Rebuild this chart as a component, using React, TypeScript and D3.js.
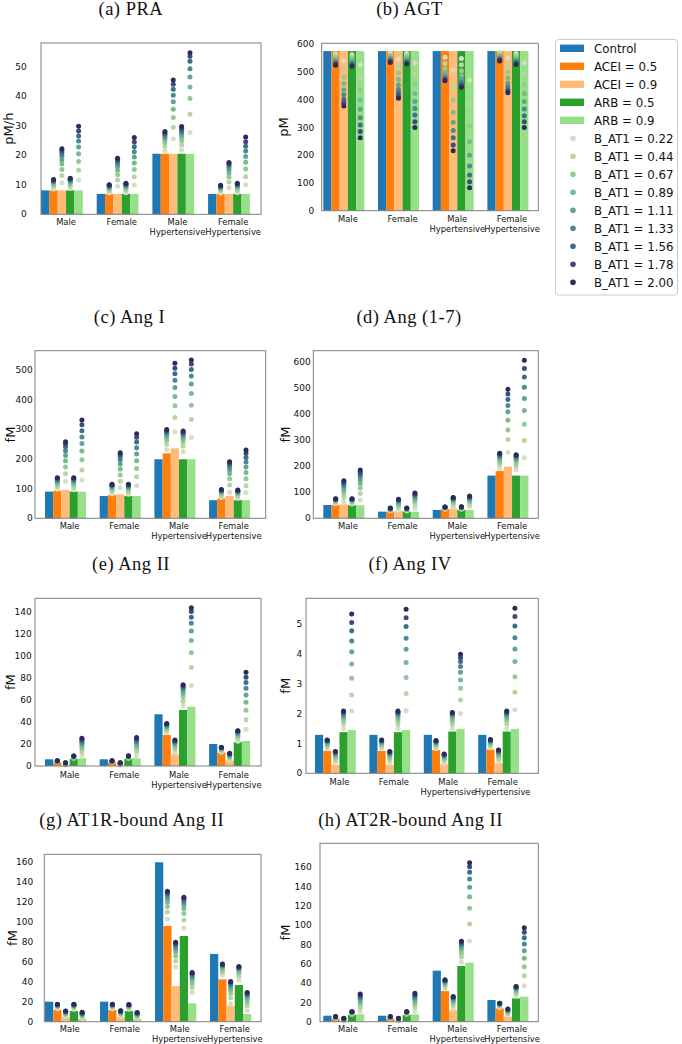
import React from "react";
import * as d3 from "d3";

// ---------- categories & labels ----------
const groups: string[][] = [["Male"], ["Female"], ["Male", "Hypertensive"], ["Female", "Hypertensive"]];
const treatments = ["Control", "ACEI = 0.5", "ACEI = 0.9", "ARB = 0.5", "ARB = 0.9"];
const bAT1 = ["0.22", "0.44", "0.67", "0.89", "1.11", "1.33", "1.56", "1.78", "2.00"];

// ---------- (a) PRA ----------
const praBars = [[8.1, 8.1, 8.1, 8.1, 8.1], [6.9, 6.9, 6.9, 6.9, 6.9], [20.5, 20.5, 20.5, 20.5, 20.5], [6.9, 6.9, 6.9, 6.9, 6.9]];
const praDots = [
  [[8.6, 9.4, 10.0, 10.5, 10.9, 11.2, 11.4, 11.6, 11.8], [10.7, 13.1, 15.2, 17.0, 18.5, 19.8, 20.8, 21.6, 22.2], [8.7, 9.6, 10.3, 10.8, 11.2, 11.5, 11.8, 12.0, 12.2], [11.6, 14.9, 17.9, 20.5, 22.8, 24.8, 26.5, 28.2, 29.8]],
  [[7.3, 8.0, 8.5, 8.9, 9.2, 9.5, 9.7, 9.9, 10.0], [9.5, 11.6, 13.4, 14.9, 16.2, 17.2, 18.0, 18.6, 19.0], [7.3, 8.1, 8.7, 9.2, 9.6, 9.9, 10.1, 10.3, 10.5], [9.9, 12.7, 15.2, 17.4, 19.4, 21.2, 22.9, 24.5, 26.0]],
  [[21.5, 23.0, 24.2, 25.2, 26.0, 26.7, 27.2, 27.6, 28.0], [25.5, 29.5, 32.8, 35.6, 38.1, 40.3, 42.3, 44.0, 45.5], [21.8, 23.5, 24.9, 26.0, 27.0, 27.8, 28.5, 29.1, 29.7], [27.7, 33.9, 39.2, 43.1, 46.5, 49.3, 51.8, 53.5, 54.7]],
  [[7.2, 7.9, 8.4, 8.8, 9.1, 9.3, 9.5, 9.6, 9.8], [9.0, 10.9, 12.6, 14.0, 15.1, 16.0, 16.7, 17.2, 17.5], [7.3, 8.1, 8.7, 9.2, 9.6, 9.9, 10.1, 10.3, 10.5], [10.0, 12.7, 15.3, 17.6, 19.6, 21.4, 23.0, 24.6, 26.2]],
];
// ---------- (b) AGT ----------
const agtBars = [[575, 575, 575, 575, 575], [575, 575, 575, 575, 575], [575, 575, 575, 575, 575], [575, 575, 575, 575, 575]];
const agtDots = [
  [[565, 558, 551, 545, 540, 535, 531, 527, 524], [540, 511, 481, 457, 436, 418, 401, 388, 377], [562, 555, 548, 542, 536, 531, 527, 523, 520], [525, 477, 435, 399, 365, 335, 309, 285, 263]],
  [[568, 562, 557, 552, 548, 544, 540, 537, 534], [546, 520, 496, 473, 453, 437, 424, 413, 405], [567, 560, 554, 548, 543, 538, 534, 531, 528], [532, 492, 455, 422, 393, 368, 345, 320, 300]],
  [[553, 530, 511, 497, 487, 480, 475, 471, 468], [505, 446, 400, 355, 319, 289, 263, 237, 216], [548, 526, 504, 487, 474, 464, 456, 450, 445], [471, 385, 306, 248, 200, 161, 129, 104, 83]],
  [[570, 565, 560, 556, 552, 548, 545, 542, 539], [550, 524, 500, 478, 460, 447, 437, 430, 425], [566, 559, 552, 546, 541, 537, 533, 530, 527], [532, 492, 455, 422, 393, 366, 342, 320, 300]],
];
// ---------- (c) Ang I ----------
const angIBars = [[90, 93, 95.5, 90, 90], [75, 78.6, 81, 75, 75], [199, 219, 236, 199, 199], [61, 67, 76, 61, 61]];
const angIDots = [
  [[98, 107, 114, 120, 125, 129, 132, 135, 137], [124, 150, 173, 194, 212, 228, 241, 251, 258], [96, 105, 113, 119, 124, 128, 132, 135, 137], [129, 163, 197, 227, 252, 274, 295, 315, 331]],
  [[82, 90, 97, 102, 106, 109, 111, 113, 115], [104, 125, 146, 166, 183, 197, 208, 216, 221], [81, 89, 96, 101, 105, 108, 111, 113, 115], [110, 140, 168, 194, 217, 238, 257, 273, 285]],
  [[232, 250, 263, 273, 281, 287, 292, 296, 299], [292, 340, 379, 411, 441, 465, 487, 506, 523], [225, 244, 258, 268, 276, 282, 287, 291, 294], [272, 333, 381, 421, 453, 480, 502, 520, 534]],
  [[70, 77, 83, 87, 90, 92, 94, 95, 97], [88, 112, 133, 150, 163, 173, 181, 187, 191], [68, 75, 81, 85, 88, 90, 92, 94, 95], [87, 110, 133, 154, 173, 190, 205, 219, 230]],
];
// ---------- (d) Ang (1-7) ----------
const ang17Bars = [[51, 51, 53.6, 50, 50], [25.5, 25.5, 28, 25.5, 25.5], [32, 34.5, 37, 32, 32], [163.5, 181, 198, 163.5, 163.5]];
const ang17Dots = [
  [[56, 61, 65, 68, 70, 72, 73, 74, 75], [62, 80, 95, 107, 117, 126, 133, 139, 144], [55, 60, 64, 67, 70, 72, 73, 74, 75], [70, 95, 116, 133, 147, 159, 169, 177, 185]],
  [[28, 31, 33, 35, 36, 37, 38, 38.5, 39], [32, 42, 50, 57, 62, 66, 69, 71, 73], [28, 31, 33, 35, 36, 37, 38, 38.5, 39], [38, 52, 63, 72, 79, 85, 90, 94, 97]],
  [[35, 37.5, 39, 40.5, 41.5, 42, 42.5, 43, 43.5], [42, 52, 60, 66, 71, 74, 77, 79, 80], [35, 37.5, 39, 40.5, 41.5, 42, 43, 43.5, 44], [45, 55, 63, 69, 74, 78, 81, 83, 85]],
  [[190, 205, 216, 225, 232, 238, 242, 246, 249], [253, 302, 338, 376, 408, 432, 455, 476, 494], [185, 200, 212, 221, 228, 234, 238, 241, 243], [232, 298, 360, 413, 459, 502, 541, 574, 605]],
];
// ---------- (e) Ang II ----------
const angIIBars = [[6.1, 3.3, 0.4, 6.4, 7.0], [6.1, 3.3, 0.4, 6.4, 7.0], [47.1, 28.2, 10.6, 51, 54], [20, 12.1, 4.9, 21.6, 22.8]];
const angIIDots = [
  [[3.6, 3.9, 4.1, 4.3, 4.4, 4.5, 4.6, 4.7, 4.8], [0.6, 1.2, 1.7, 2.1, 2.4, 2.6, 2.8, 2.9, 3.0], [7.0, 7.6, 8.0, 8.3, 8.6, 8.8, 8.9, 9.0, 9.1], [9.5, 13.0, 15.8, 18.1, 20.0, 21.6, 23.0, 24.2, 25.2]],
  [[3.6, 3.9, 4.1, 4.3, 4.4, 4.5, 4.6, 4.7, 4.8], [0.6, 1.2, 1.7, 2.1, 2.4, 2.6, 2.8, 2.9, 3.0], [7.0, 7.6, 8.0, 8.4, 8.7, 8.9, 9.0, 9.1, 9.2], [9.5, 13.2, 16.1, 18.5, 20.5, 22.1, 23.5, 24.8, 25.9]],
  [[30.5, 32.5, 34.0, 35.2, 36.2, 37.0, 37.7, 38.3, 38.8], [12, 15, 17.3, 19.1, 20.5, 21.6, 22.5, 23.1, 23.6], [55, 59, 63, 66, 68.5, 70.5, 72, 73, 74], [73.2, 89.6, 103.2, 114.2, 123, 130, 135.4, 140.6, 144.2]],
  [[12.5, 13.8, 14.8, 15.5, 16.0, 16.4, 16.7, 16.9, 17.1], [5.5, 7.0, 8.2, 9.1, 9.8, 10.4, 10.8, 11.2, 11.5], [22.5, 25.0, 27.0, 28.5, 29.7, 30.6, 31.3, 31.8, 32.2], [33.4, 42, 50.7, 58, 64.7, 70.8, 76, 80.8, 85.3]],
];
// ---------- (f) Ang IV ----------
const angIVBars = [[1.29, 0.75, 0.28, 1.38, 1.45], [1.29, 0.75, 0.28, 1.38, 1.45], [1.29, 0.78, 0.30, 1.40, 1.49], [1.29, 0.80, 0.34, 1.40, 1.49]];
const angIVDots = [
  [[0.82, 0.90, 0.96, 1.00, 1.04, 1.07, 1.09, 1.11, 1.12], [0.35, 0.45, 0.53, 0.59, 0.64, 0.67, 0.70, 0.72, 0.73], [1.50, 1.65, 1.77, 1.86, 1.93, 1.99, 2.03, 2.06, 2.09], [2.10, 2.63, 3.19, 3.67, 4.08, 4.44, 4.78, 5.06, 5.34]],
  [[0.82, 0.90, 0.96, 1.00, 1.04, 1.07, 1.09, 1.11, 1.12], [0.35, 0.45, 0.53, 0.59, 0.64, 0.67, 0.70, 0.72, 0.73], [1.50, 1.65, 1.77, 1.86, 1.93, 1.99, 2.03, 2.06, 2.09], [2.10, 2.68, 3.21, 3.72, 4.16, 4.53, 4.92, 5.22, 5.50]],
  [[0.82, 0.89, 0.95, 0.99, 1.03, 1.05, 1.07, 1.09, 1.10], [0.34, 0.42, 0.48, 0.53, 0.57, 0.60, 0.62, 0.64, 0.65], [1.50, 1.64, 1.75, 1.84, 1.91, 1.96, 2.00, 2.02, 2.04], [2.01, 2.46, 2.85, 3.13, 3.39, 3.58, 3.75, 3.88, 3.99]],
  [[0.86, 0.93, 0.98, 1.02, 1.06, 1.08, 1.10, 1.12, 1.13], [0.38, 0.49, 0.57, 0.63, 0.68, 0.72, 0.75, 0.77, 0.78], [1.50, 1.65, 1.77, 1.86, 1.93, 1.99, 2.03, 2.06, 2.09], [2.13, 2.72, 3.24, 3.75, 4.17, 4.55, 4.94, 5.26, 5.54]],
];
// ---------- (g) AT1R-bound Ang II ----------
const at1rBars = [[20.1, 11.7, 4.4, 10.7, 2.7], [20.1, 11.7, 4.4, 10.7, 2.7], [160, 96, 35.8, 86, 18.4], [68, 42.5, 15.7, 36.8, 7.7]];
const at1rDots = [
  [[13, 14.3, 15.2, 15.9, 16.4, 16.8, 17.1, 17.3, 17.5], [5.5, 6.8, 7.8, 8.6, 9.2, 9.7, 10.1, 10.4, 10.7], [12.5, 13.9, 14.9, 15.7, 16.3, 16.8, 17.1, 17.3, 17.5], [3.5, 4.8, 5.9, 6.8, 7.5, 8.1, 8.6, 9.0, 9.4]],
  [[13, 14.3, 15.2, 15.9, 16.4, 16.8, 17.1, 17.3, 17.4], [5.6, 6.9, 7.9, 8.7, 9.4, 9.9, 10.4, 10.7, 11.0], [12.4, 13.8, 14.8, 15.5, 16.1, 16.6, 16.9, 17.1, 17.2], [3.5, 4.8, 5.8, 6.7, 7.4, 8.0, 8.5, 8.9, 9.2]],
  [[103, 110, 115.5, 120, 123.5, 126.5, 128.5, 130, 131], [55, 61, 66, 70, 73, 75.5, 77.5, 78.8, 79.8], [94, 102, 108.5, 113.5, 117.5, 120.5, 122.5, 124, 125], [29, 34, 38, 41.5, 44, 46, 47.5, 48.5, 49.3]],
  [[46.5, 49.5, 52, 54, 55.3, 56.3, 57, 57.5, 58], [18, 24, 28.5, 32, 35, 37, 38.5, 39.5, 40.3], [41.5, 45.5, 48.5, 50.7, 52.3, 53.5, 54.4, 55.0, 55.5], [11, 16, 19.5, 22.5, 24.8, 26.5, 27.8, 28.7, 29.3]],
];
// ---------- (h) AT2R-bound Ang II ----------
const at2rBars = [[6.2, 3.1, 0.3, 6.9, 7.6], [6.2, 3.1, 0.3, 6.9, 7.6], [52.9, 31.8, 12.1, 57.7, 61.2], [22.5, 13.8, 5.2, 24.2, 25.9]];
const at2rDots = [
  [[3.6, 4.0, 4.4, 4.6, 4.8, 5.0, 5.1, 5.2, 5.3], [0.6, 1.3, 1.9, 2.3, 2.7, 3.0, 3.2, 3.4, 3.5], [7.8, 8.5, 9.0, 9.4, 9.7, 10.0, 10.2, 10.3, 10.4], [10.5, 14.5, 17.8, 20.5, 22.7, 24.6, 26.2, 27.6, 28.8]],
  [[3.6, 4.0, 4.4, 4.6, 4.8, 5.0, 5.1, 5.2, 5.3], [0.6, 1.3, 1.9, 2.3, 2.7, 3.0, 3.2, 3.4, 3.5], [7.8, 8.5, 9.0, 9.4, 9.7, 10.0, 10.2, 10.3, 10.4], [10.5, 14.7, 18.1, 20.9, 23.2, 25.2, 26.9, 28.3, 29.5]],
  [[34, 36.5, 38.5, 40, 41, 41.8, 42.5, 43, 43.4], [13.5, 16.5, 19, 21, 22.5, 23.8, 24.8, 25.5, 26.1], [62, 67, 71, 74.5, 77.3, 79.5, 81.2, 82.5, 83.5], [83.6, 101.2, 117.5, 129.6, 139.3, 147.9, 154.8, 160.7, 164.8]],
  [[14.5, 15.8, 16.8, 17.5, 18.1, 18.5, 18.8, 19.0, 19.2], [6.5, 8.3, 9.6, 10.6, 11.4, 12.0, 12.5, 12.8, 13.1], [26.5, 29, 31, 32.6, 33.9, 34.9, 35.6, 36.1, 36.5], [37, 47.7, 57, 65.7, 73.6, 80.5, 87.1, 92.6, 97.4]],
];

// ---------- axis ticks ----------
const praTicks = [0, 10, 20, 30, 40, 50];
const agtTicks = [0, 100, 200, 300, 400, 500, 600];
const angITicks = [0, 100, 200, 300, 400, 500];
const ang17Ticks = [0, 100, 200, 300, 400, 500, 600];
const angIITicks = [0, 20, 40, 60, 80, 100, 120, 140];
const angIVTicks = [0, 1, 2, 3, 4, 5];
const at1rTicks = [0, 20, 40, 60, 80, 100, 120, 140, 160];
const at2rTicks = [0, 20, 40, 60, 80, 100, 120, 140, 160];

// ---------- styles ----------
const barColors = ["#1f77b4", "#ff7f0e", "#ffbb78", "#2ca02c", "#98df8a"];
const dotColors = ["#d6dec3", "#b5d6a2", "#96c896", "#7aba91", "#5fa691", "#4b8a90", "#3f6c8b", "#3b4b7f", "#2c2b5a"];

const panels = [
  { title: "(a) PRA", unit: "pM/h", bars: praBars, dots: praDots, yMax: 58, ticks: praTicks,
    L: 41, R: 261, T: 43, B: 214.3, x0: -0.375, x1: 3.575, tx: 130.8, ty: 14.5, lx: 8.5, gap: 14.3, lb: 11 },
  { title: "(b) AGT", unit: "pM", bars: agtBars, dots: agtDots, yMax: 603, ticks: agtTicks,
    L: 321.7, R: 538.3, T: 43.3, B: 210.7, x0: -0.404, x1: 3.556, tx: 409.5, ty: 14.5, lx: 283.5, gap: 7.4, lb: 11 },
  { title: "(c) Ang I", unit: "fM", bars: angIBars, dots: angIDots, yMax: 565, ticks: angITicks,
    L: 35, R: 265.7, T: 350.7, B: 518.3, x0: -0.558, x1: 3.66, tx: 129.5, ty: 322.7, lx: 10.7, gap: 2.2, lb: 11 },
  { title: "(d) Ang (1-7)", unit: "fM", bars: ang17Bars, dots: ang17Dots, yMax: 642, ticks: ang17Ticks,
    L: 313.3, R: 538.3, T: 350.7, B: 518.3, x0: -0.558, x1: 3.555, tx: 409, ty: 323, lx: 285, gap: 2.6, lb: 11 },
  { title: "(e) Ang II", unit: "fM", bars: angIIBars, dots: angIIDots, yMax: 152.7, ticks: angIITicks,
    L: 35, R: 261, T: 598.3, B: 766, x0: -0.558, x1: 3.574, tx: 131, ty: 570, lx: 10.7, gap: 3.3, lb: 11.5 },
  { title: "(f) Ang IV", unit: "fM", bars: angIVBars, dots: angIVDots, yMax: 5.87, ticks: angIVTicks,
    L: 306, R: 538.3, T: 598.3, B: 773.3, x0: -0.54, x1: 3.73, tx: 410, ty: 570, lx: 285, gap: 3.7, lb: 11.5 },
  { title: "(g) AT1R-bound Ang II", unit: "fM", bars: at1rBars, dots: at1rDots, yMax: 168, ticks: at1rTicks,
    L: 44.3, R: 261, T: 854.3, B: 1021.7, x0: -0.388, x1: 3.552, tx: 131.7, ty: 826, lx: 12.7, gap: 11, lb: 10 },
  { title: "(h) AT2R-bound Ang II", unit: "fM", bars: at2rBars, dots: at2rDots, yMax: 184.9, ticks: at2rTicks,
    L: 320, R: 538.3, T: 843.3, B: 1021.7, x0: -0.435, x1: 3.556, tx: 410.5, ty: 826, lx: 285, gap: 8.3, lb: 10 },
];

const W = 0.15; // bar width in group units
const SANS = "DejaVu Sans, sans-serif";
const SERIF = "Liberation Serif, Times New Roman, serif";

function Panel({ p }: { p: (typeof panels)[number] }) {
  const x = d3.scaleLinear().domain([p.x0, p.x1]).range([p.L, p.R]);
  const y = d3.scaleLinear().domain([0, p.yMax]).range([p.B, p.T]);
  return (
    <g>
      <text x={p.tx} y={p.ty} textAnchor="middle" fontFamily={SERIF} fontSize={18.5} letterSpacing={0.5} fill="#111">{p.title}</text>
      {/* bars */}
      {p.bars.map((vals, gi) =>
        vals.map((v, k) => {
          const xa = x(gi + (k - 2.5) * W);
          const xb = x(gi + (k - 1.5) * W);
          return <rect key={`b${gi}-${k}`} x={xa} y={y(v)} width={xb - xa} height={y(0) - y(v)} fill={barColors[k]} />;
        })
      )}
      {/* dots */}
      {p.dots.map((cols, gi) =>
        cols.map((vals, c) =>
          vals.map((v, j) => (
            <circle key={`d${gi}-${c}-${j}`} cx={x(gi + (c + 1 - 2) * W)} cy={y(v)} r={2.5} fill={dotColors[j]} />
          ))
        )
      )}
      {/* frame */}
      <rect x={p.L} y={p.T} width={p.R - p.L} height={p.B - p.T} fill="none" stroke="#7f7f7f" strokeWidth={1} />
      {/* y ticks */}
      {p.ticks.map((t) => (
        <text key={`t${t}`} x={p.L - p.gap} y={y(t)} dy="0.35em" textAnchor="end" fontFamily={SANS} fontSize={9} fill="#111">{t}</text>
      ))}
      {/* x tick labels */}
      {groups.map((lines, gi) => (
        <text key={`g${gi}`} textAnchor="middle" fontFamily={SANS} fontSize={8.4} fill="#111">
          {lines.map((ln, li) => (
            <tspan key={li} x={x(gi + W / 2)} y={p.B + p.lb + li * 10}>{ln}</tspan>
          ))}
        </text>
      ))}
      {/* y label */}
      <text transform={`translate(${p.lx},${(p.T + p.B) / 2}) rotate(-90)`} dy="0.35em" textAnchor="middle" fontFamily={SANS} fontSize={13} fill="#111">{p.unit}</text>
    </g>
  );
}

function Legend() {
  const top = 48.3;
  const step = 18;
  return (
    <g>
      <rect x={555.5} y={39.5} width={122} height={255.5} rx={3} fill="#fff" stroke="#cccccc" strokeWidth={1} />
      {treatments.map((t, i) => (
        <g key={t}>
          <rect x={560} y={top + i * step - 3.7} width={24} height={7.4} fill={barColors[i]} />
          <text x={594} y={top + i * step} dy="0.36em" fontFamily={SANS} fontSize={11.8} fill="#111">{t}</text>
        </g>
      ))}
      {bAT1.map((b, j) => {
        const yy = top + (treatments.length + j) * step;
        return (
          <g key={b}>
            <circle cx={573} cy={yy} r={2.8} fill={dotColors[j]} />
            <text x={594} y={yy} dy="0.36em" fontFamily={SANS} fontSize={11.8} fill="#111">{`B_AT1 = ${b}`}</text>
          </g>
        );
      })}
    </g>
  );
}

export default function App() {
  return (
    <svg width={682} height={1044} style={{ position: "absolute", left: 0, top: 0, background: "#fff" }}>
      <rect width={682} height={1044} fill="#fff" />
      {panels.map((p) => <Panel key={p.title} p={p} />)}
      <Legend />
    </svg>
  );
}
